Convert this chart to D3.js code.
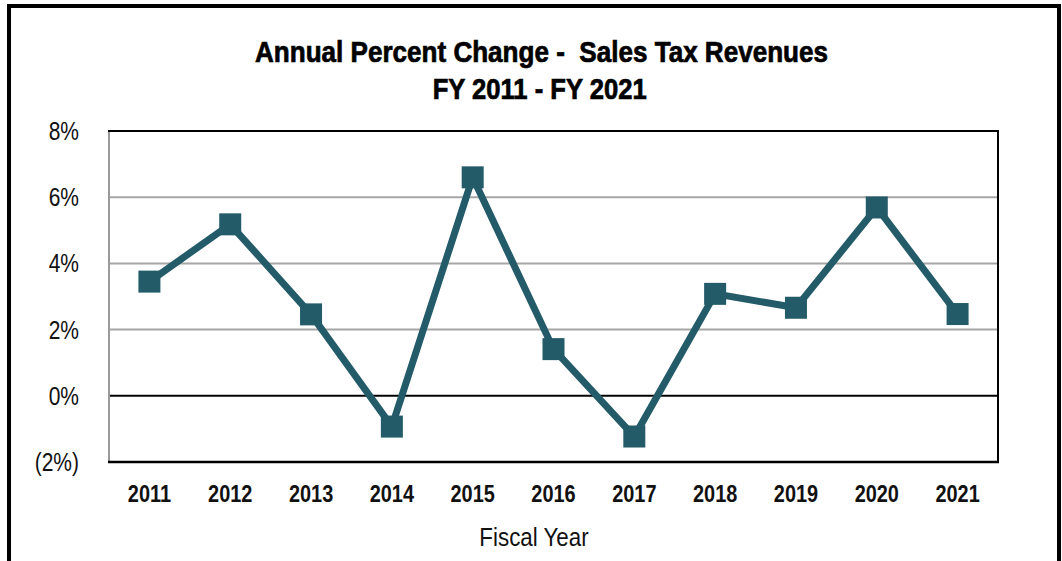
<!DOCTYPE html>
<html>
<head>
<meta charset="utf-8">
<script src="https://cdn.jsdelivr.net/npm/d3@7"></script>
<style>
body{margin:0;background:#fff;}
svg{display:block;}
</style>
</head>
<body>
<svg id="canvas" width="1062" height="561"></svg>
<script>
// values
const years = ["2011","2012","2013","2014","2015","2016","2017","2018","2019","2020","2021"];
const pctChange = [3.45, 5.18, 2.46, -0.93, 6.6, 1.41, -1.23, 3.08, 2.66, 5.69, 2.47];
const yTicks = [-2, 0, 2, 4, 6, 8];
const titleLines = ["Annual Percent Change -  Sales Tax Revenues", "FY 2011 - FY 2021"];
const xTitle = "Fiscal Year";

let svg = d3.select("#canvas");
const fam = "'Liberation Sans', Arial, sans-serif";
const lineCol = "#235b69";
const sx = 0.84; // squeeze Liberation Sans into the narrow look of the original

// outer frame (bottom runs off the picture)
svg.append("rect").attr("x",9).attr("y",6).attr("width",1050).attr("height",580)
  .attr("fill","#fff").attr("stroke","#000").attr("stroke-width",4);

let x = d3.scaleBand().domain(years).range([109,998]);
let y = d3.scaleLinear().domain([-2,8]).range([462,131]);

// gridlines
svg.append("g").selectAll("line").data(yTicks.filter(t => t!=-2 && t!=8 && t!=0)).join("line")
  .attr("x1",109).attr("x2",998).attr("y1",d=>y(d)).attr("y2",d=>y(d))
  .attr("stroke","#a6a6a6").attr("stroke-width",2);
svg.append("line").attr("x1",109).attr("x2",998).attr("y1",y(0)).attr("y2",y(0))
  .attr("stroke","#000").attr("stroke-width",2);

// plot border
svg.append("line").attr("x1",109).attr("x2",109).attr("y1",y(8)).attr("y2",y(-2)).attr("stroke","#9a9a9a").attr("stroke-width",2);
svg.append("line").attr("x1",108).attr("x2",999).attr("y1",y(8)).attr("y2",y(8)).attr("stroke","#000").attr("stroke-width",2);
svg.append("line").attr("x1",998).attr("x2",998).attr("y1",y(8)).attr("y2",y(-2)).attr("stroke","#000").attr("stroke-width",2);
svg.append("line").attr("x1",108).attr("x2",999).attr("y1",y(-2)).attr("y2",y(-2)).attr("stroke","#000").attr("stroke-width",2.5);

// y axis labels
svg.append("g").selectAll("text").data(yTicks).join("text")
  .attr("transform",d=>`translate(79,${y(d)+9}) scale(${sx},1)`).attr("text-anchor","end")
  .style("font",`25px ${fam}`).attr("fill","#111")
  .text(d => d<0 ? "(" + Math.abs(d) + "%)" : d + "%");

// x axis labels
svg.append("g").selectAll("text").data(years).join("text")
  .attr("transform",d=>`translate(${x(d)+x.bandwidth()/2},502) scale(0.83,1)`).attr("text-anchor","middle")
  .style("font",`bold 24px ${fam}`).attr("fill","#111").text(d=>d);

svg.append("text").attr("transform","translate(534,546) scale(0.86,1)").attr("text-anchor","middle")
  .style("font",`26px ${fam}`).attr("fill","#111").text(xTitle);

// title (a thin stroke to get the heavier weight of the original)
const titleW = [573, 214];
svg.append("g").selectAll("text").data(titleLines).join("text")
  .attr("x",(d,i)=>i==0 ? 541.5 : 539.7).attr("y",(d,i)=>62+i*37).attr("text-anchor","middle")
  .attr("textLength",(d,i)=>titleW[i]).attr("lengthAdjust","spacingAndGlyphs")
  .style("font",`bold 29px ${fam}`).style("white-space","pre")
  .attr("fill","#000").attr("stroke","#000").attr("stroke-width",0.7)
  .text(d=>d);

// series line + square markers
let pts = years.map((yr,i)=>[x(yr)+x.bandwidth()/2, y(pctChange[i])]);
svg.append("path").attr("d",d3.line()(pts)).attr("fill","none")
  .attr("stroke",lineCol).attr("stroke-width",7).attr("stroke-linejoin","miter");
svg.append("g").selectAll("rect").data(pts).join("rect")
  .attr("x",d=>d[0]-11).attr("y",d=>d[1]-11).attr("width",22).attr("height",22)
  .attr("fill",lineCol);
</script>
</body>
</html>
